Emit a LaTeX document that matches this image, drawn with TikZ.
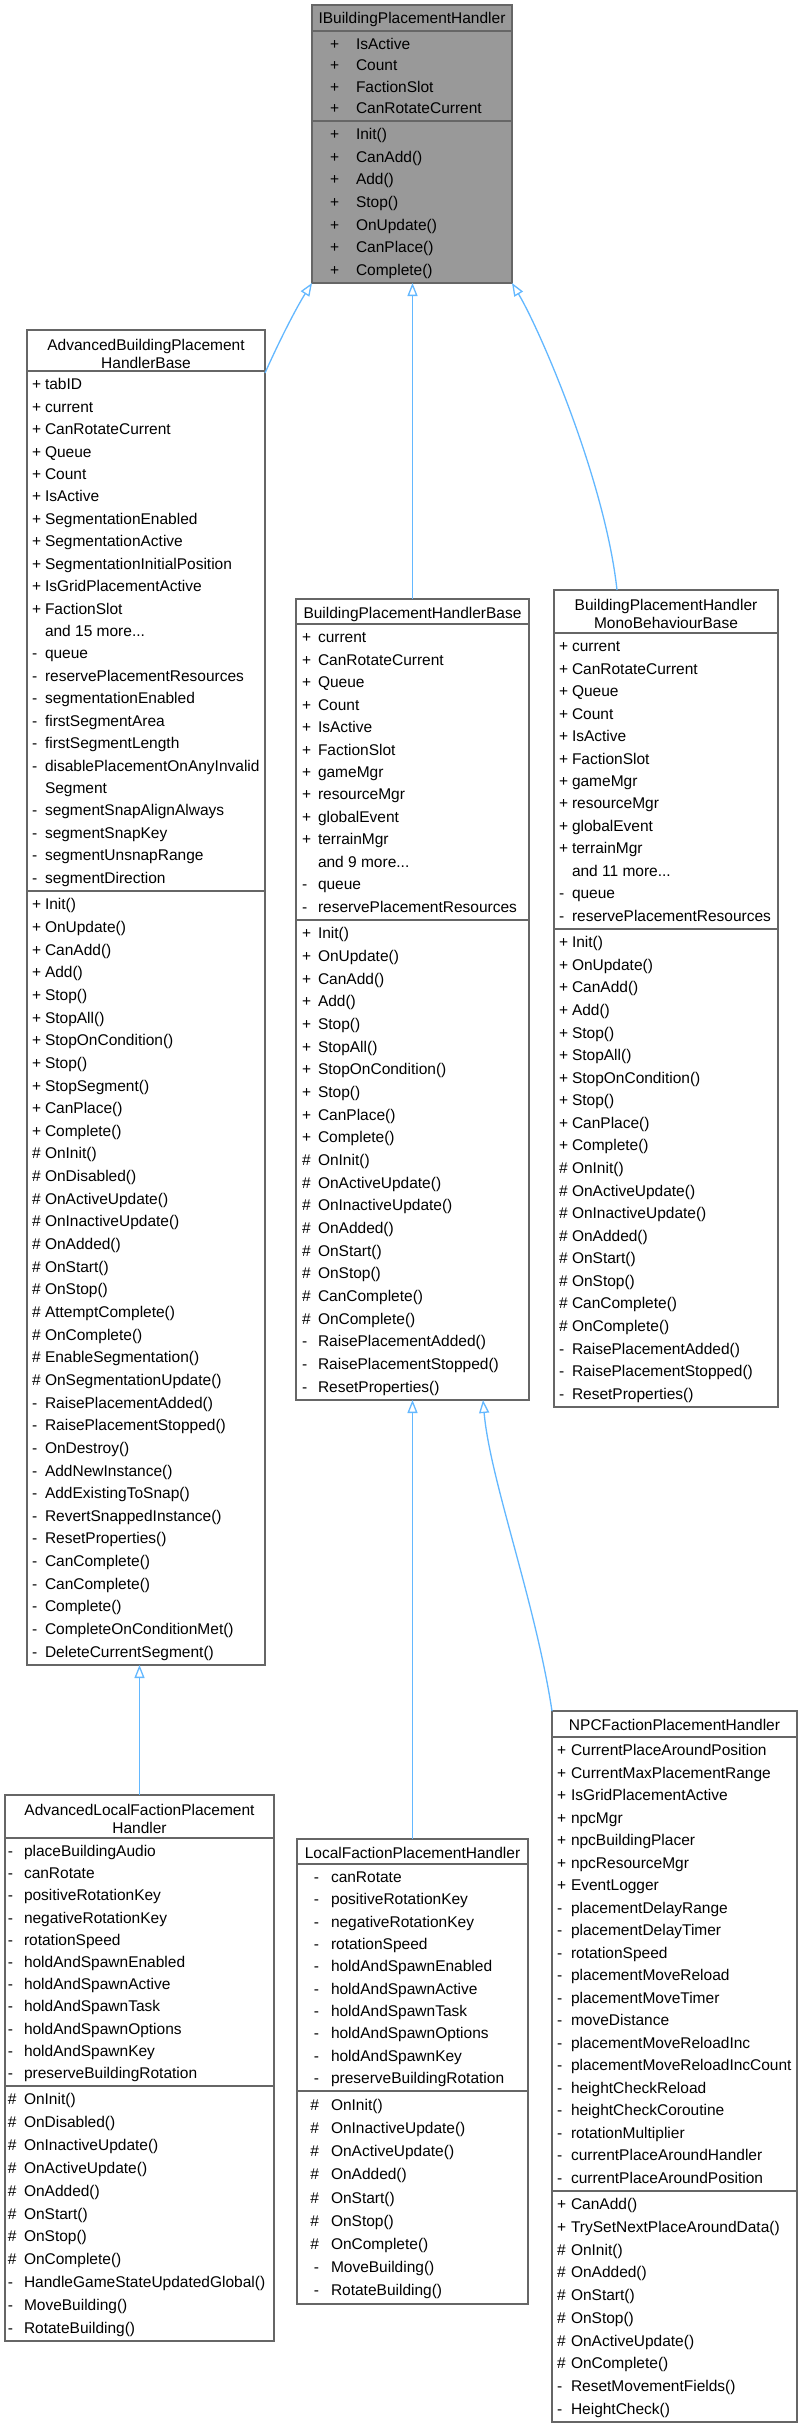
\documentclass[tikz,border=0pt]{standalone}
\usepackage{fontspec}
\setmainfont{Liberation Sans}
\usetikzlibrary{arrows.meta,fit,calc}
\definecolor{edgeblue}{HTML}{63B8FF}
\definecolor{boxline}{HTML}{666666}
\definecolor{topfill}{HTML}{999999}
\newcommand\hs{\#}
\newcommand\andmore[1]{and #1 more...}
\tikzset{
  txt/.style={inner sep=0pt, outer sep=0pt, font=\fontsize{15.5}{18}\selectfont, text=black},
  classbox/.style={draw=boxline, line width=1.3pt, inner sep=0pt, outer sep=0pt},
  sepline/.style={draw=boxline, line width=1.3pt},
  inh/.style={draw=edgeblue, line width=1.3pt, -{Triangle[open, length=13pt, width=10pt, fill=white]}},
}
% name, left, right, top, S1, S2, bottom, fill
\newcommand\classrect[8]{%
  \node[classbox, fill=#8, fit={(#2,#4) (#3,#7)}] (#1) {};
  \draw[sepline] (#2,#5) -- (#3,#5) (#2,#6) -- (#3,#6);
}
% prefix, symx, sym anchor, namex, Sa, Sb, n, list
\newcommand\rows[8]{%
  \pgfmathsetmacro\stp{(#6-#5-4)/#7}%
  \foreach \sy/\nm [count=\i] in {#8}{%
    \pgfmathsetmacro\yy{#5+7.5+(\i-0.5)*\stp}%
    \node[txt, anchor=#3] (#1-s\i) at (#2,\yy) {\sy};
    \node[txt, anchor=base west] (#1-n\i) at (#4,\yy) {\nm};
  }%
}
\begin{document}
\begin{tikzpicture}[x=1pt, y=-1pt]
\fill[white] (0,0) rectangle (801,2427);
\useasboundingbox (0,0) rectangle (801,2427);

% ---------- IBuildingPlacementHandler ----------
\classrect{top}{312}{512}{5}{31}{121}{283}{topfill}
\node[txt, anchor=base] (top-t) at (412,24) {IBuildingPlacementHandler};
\rows{topa}{330}{base west}{356}{31}{121}{4}{+/IsActive, +/Count, +/FactionSlot, +/CanRotateCurrent}
\rows{topm}{330}{base west}{356}{121}{283}{7}{+/Init(), +/CanAdd(), +/Add(), +/Stop(), +/OnUpdate(), +/CanPlace(), +/Complete()}

% ---------- AdvancedBuildingPlacementHandlerBase ----------
\classrect{abphb}{27}{265}{330}{371}{891}{1665}{white}
\node[txt, anchor=base] (abphb-t1) at (146,350.5) {AdvancedBuildingPlacement};
\node[txt, anchor=base] (abphb-t2) at (146,368) {HandlerBase};
\rows{abphba}{32}{base west}{45}{371}{891}{23}{+/tabID, +/current, +/CanRotateCurrent, +/Queue, +/Count, +/IsActive, +/SegmentationEnabled, +/SegmentationActive, +/SegmentationInitialPosition, +/IsGridPlacementActive, +/FactionSlot, {}/\andmore{15}, -/queue, -/reservePlacementResources, -/segmentationEnabled, -/firstSegmentArea, -/firstSegmentLength, -/disablePlacementOnAnyInvalid, {}/Segment, -/segmentSnapAlignAlways, -/segmentSnapKey, -/segmentUnsnapRange, -/segmentDirection}
\rows{abphbm}{32}{base west}{45}{891}{1665}{34}{+/Init(), +/OnUpdate(), +/CanAdd(), +/Add(), +/Stop(), +/StopAll(), +/StopOnCondition(), +/Stop(), +/StopSegment(), +/CanPlace(), +/Complete(), \hs/OnInit(), \hs/OnDisabled(), \hs/OnActiveUpdate(), \hs/OnInactiveUpdate(), \hs/OnAdded(), \hs/OnStart(), \hs/OnStop(), \hs/AttemptComplete(), \hs/OnComplete(), \hs/EnableSegmentation(), \hs/OnSegmentationUpdate(), -/RaisePlacementAdded(), -/RaisePlacementStopped(), -/OnDestroy(), -/AddNewInstance(), -/AddExistingToSnap(), -/RevertSnappedInstance(), -/ResetProperties(), -/CanComplete(), -/CanComplete(), -/Complete(), -/CompleteOnConditionMet(), -/DeleteCurrentSegment()}

% ---------- BuildingPlacementHandlerBase ----------
\classrect{bphb}{296}{529}{599}{624}{920}{1400}{white}
\node[txt, anchor=base] (bphb-t) at (412.5,618) {BuildingPlacementHandlerBase};
\rows{bphba}{302}{base west}{318}{624}{920}{13}{+/current, +/CanRotateCurrent, +/Queue, +/Count, +/IsActive, +/FactionSlot, +/gameMgr, +/resourceMgr, +/globalEvent, +/terrainMgr, {}/\andmore{9}, -/queue, -/reservePlacementResources}
\rows{bphbm}{302}{base west}{318}{920}{1400}{21}{+/Init(), +/OnUpdate(), +/CanAdd(), +/Add(), +/Stop(), +/StopAll(), +/StopOnCondition(), +/Stop(), +/CanPlace(), +/Complete(), \hs/OnInit(), \hs/OnActiveUpdate(), \hs/OnInactiveUpdate(), \hs/OnAdded(), \hs/OnStart(), \hs/OnStop(), \hs/CanComplete(), \hs/OnComplete(), -/RaisePlacementAdded(), -/RaisePlacementStopped(), -/ResetProperties()}

% ---------- BuildingPlacementHandlerMonoBehaviourBase ----------
\classrect{mono}{554}{778}{590}{633}{929}{1407}{white}
\node[txt, anchor=base] (mono-t1) at (666,610.5) {BuildingPlacementHandler};
\node[txt, anchor=base] (mono-t2) at (666,628) {MonoBehaviourBase};
\rows{monoa}{559}{base west}{572}{633}{929}{13}{+/current, +/CanRotateCurrent, +/Queue, +/Count, +/IsActive, +/FactionSlot, +/gameMgr, +/resourceMgr, +/globalEvent, +/terrainMgr, {}/\andmore{11}, -/queue, -/reservePlacementResources}
\rows{monom}{559}{base west}{572}{929}{1407}{21}{+/Init(), +/OnUpdate(), +/CanAdd(), +/Add(), +/Stop(), +/StopAll(), +/StopOnCondition(), +/Stop(), +/CanPlace(), +/Complete(), \hs/OnInit(), \hs/OnActiveUpdate(), \hs/OnInactiveUpdate(), \hs/OnAdded(), \hs/OnStart(), \hs/OnStop(), \hs/CanComplete(), \hs/OnComplete(), -/RaisePlacementAdded(), -/RaisePlacementStopped(), -/ResetProperties()}

% ---------- AdvancedLocalFactionPlacementHandler ----------
\classrect{alfph}{5}{274}{1795}{1838}{2086}{2341}{white}
\node[txt, anchor=base] (alfph-t1) at (139.5,1815.5) {AdvancedLocalFactionPlacement};
\node[txt, anchor=base] (alfph-t2) at (139.5,1833) {Handler};
\rows{alfpha}{8}{base west}{24}{1838}{2086}{11}{-/placeBuildingAudio, -/canRotate, -/positiveRotationKey, -/negativeRotationKey, -/rotationSpeed, -/holdAndSpawnEnabled, -/holdAndSpawnActive, -/holdAndSpawnTask, -/holdAndSpawnOptions, -/holdAndSpawnKey, -/preserveBuildingRotation}
\rows{alfphm}{8}{base west}{24}{2086}{2341}{11}{\hs/OnInit(), \hs/OnDisabled(), \hs/OnInactiveUpdate(), \hs/OnActiveUpdate(), \hs/OnAdded(), \hs/OnStart(), \hs/OnStop(), \hs/OnComplete(), -/HandleGameStateUpdatedGlobal(), -/MoveBuilding(), -/RotateBuilding()}

% ---------- LocalFactionPlacementHandler ----------
\classrect{lfph}{297}{528}{1839}{1864}{2091}{2304}{white}
\node[txt, anchor=base] (lfph-t) at (412.5,1858) {LocalFactionPlacementHandler};
\rows{lfpha}{319}{base east}{331}{1864}{2091}{10}{-/canRotate, -/positiveRotationKey, -/negativeRotationKey, -/rotationSpeed, -/holdAndSpawnEnabled, -/holdAndSpawnActive, -/holdAndSpawnTask, -/holdAndSpawnOptions, -/holdAndSpawnKey, -/preserveBuildingRotation}
\rows{lfphm}{319}{base east}{331}{2091}{2304}{9}{\hs/OnInit(), \hs/OnInactiveUpdate(), \hs/OnActiveUpdate(), \hs/OnAdded(), \hs/OnStart(), \hs/OnStop(), \hs/OnComplete(), -/MoveBuilding(), -/RotateBuilding()}

% ---------- NPCFactionPlacementHandler ----------
\classrect{npc}{552}{797}{1711}{1737}{2191}{2422}{white}
\node[txt, anchor=base] (npc-t) at (674.5,1730) {NPCFactionPlacementHandler};
\rows{npca}{557}{base west}{571}{1737}{2191}{20}{+/CurrentPlaceAroundPosition, +/CurrentMaxPlacementRange, +/IsGridPlacementActive, +/npcMgr, +/npcBuildingPlacer, +/npcResourceMgr, +/EventLogger, -/placementDelayRange, -/placementDelayTimer, -/rotationSpeed, -/placementMoveReload, -/placementMoveTimer, -/moveDistance, -/placementMoveReloadInc, -/placementMoveReloadIncCount, -/heightCheckReload, -/heightCheckCoroutine, -/rotationMultiplier, -/currentPlaceAroundHandler, -/currentPlaceAroundPosition}
\rows{npcm}{557}{base west}{571}{2191}{2422}{10}{+/CanAdd(), +/TrySetNextPlaceAroundData(), \hs/OnInit(), \hs/OnAdded(), \hs/OnStart(), \hs/OnStop(), \hs/OnActiveUpdate(), \hs/OnComplete(), -/ResetMovementFields(), -/HeightCheck()}

% ---------- inheritance connectors ----------
\draw[inh] ($(abphb.north east)+(0,43)$) .. controls (282,335) and (298,305) .. (top.south west);
\draw[inh] (bphb.north) -- (bphb.north |- top.south);
\draw[inh] ($(mono.north west)+(63,0)$) .. controls (605,480) and (540,330) .. (top.south east);
\draw[inh] (alfph.north) -- (alfph.north |- abphb.south);
\draw[inh] (lfph.north) -- (bphb.south);
\draw[inh] (npc.north west) .. controls (535,1600) and (490,1480) .. ($(bphb.south east)+(-46,0)$);
\end{tikzpicture}
\end{document}
